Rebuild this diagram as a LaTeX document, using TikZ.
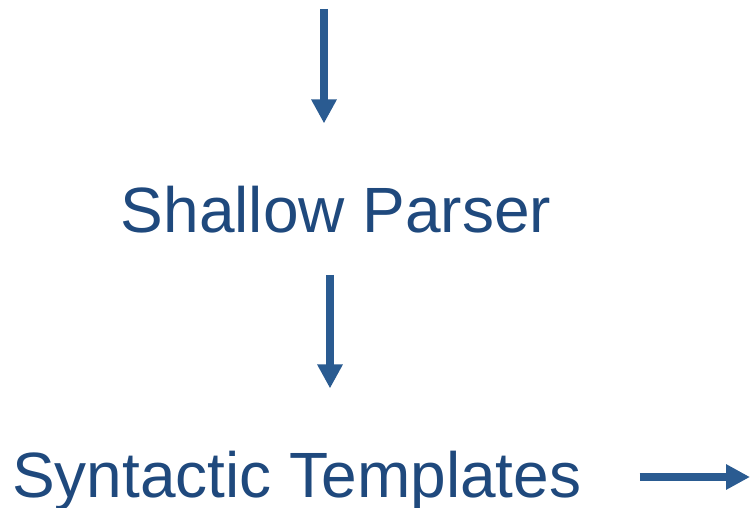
\documentclass[tikz,border=0pt]{standalone}
\usepackage{fontspec}
\setmainfont{Liberation Sans}
\usepackage{xcolor}
\usepackage{tikz}
\usetikzlibrary{arrows.meta}

\definecolor{textblue}{HTML}{1F497D}
\definecolor{arrowblue}{HTML}{2A5B91}

\begin{document}
\begin{tikzpicture}[x=1pt,y=-1pt]
\tikzstyle{label} = [inner sep=0pt, text=textblue, font=\fontsize{64}{70}\selectfont]
\tikzstyle{flow} = [draw=arrowblue, line width=8pt, -{Triangle[length=24pt,width=24pt]}, arrowblue]

\useasboundingbox (0,0) rectangle (750,508);

\coordinate (in) at (324,9);
\coordinate (out) at (750,477);
\node (parser) [label,anchor=base] at (336,233) {Shallow Parser};
\node (templates) [label,anchor=base west] at (12,497) {Syntactic Templates};

\draw [flow,shorten >=63pt] (in) -- (in |- parser.north);
\draw [flow,shorten <=41pt,shorten >=62pt] ([xshift=-6pt]parser.south) -- ([xshift=-6pt]parser.south |- templates.north);
\draw [flow,shorten <=58pt] (templates.east |- out) -- (out);

\end{tikzpicture}
\end{document}
